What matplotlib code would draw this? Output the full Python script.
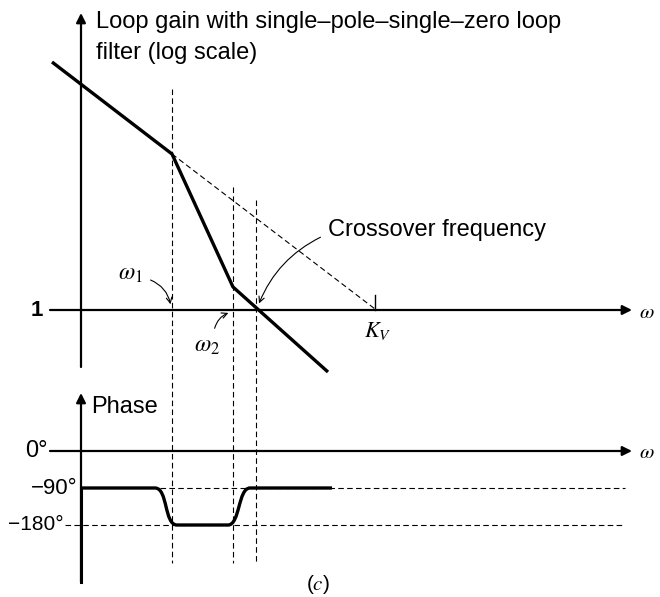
import matplotlib
matplotlib.use("Agg")
import matplotlib.pyplot as plt
from matplotlib.path import Path
from matplotlib.patches import PathPatch

plt.rcParams["font.family"] = ["Liberation Sans", "DejaVu Sans"]
plt.rcParams["mathtext.fontset"] = "stix"

# Sketch coordinates: x runs along log frequency, y runs down the page
# (log gain in the upper plot, phase in the lower one).
gain_x = [52, 172, 233, 328]          # loop gain asymptotes
gain_y = [62, 154, 287, 372]
asym_x = [172, 375]                    # continuation without the zero, down to K_v
asym_y = [154, 309]
corner_x = [172, 233, 256]             # omega_1, omega_2, crossover
corner_top = [89, 187, 200]
corner_bottom = 563
unity_y = 310
kv_x = 375

phase_levels = [451, 488, 525]         # 0, -90, -180 degrees
phase_labels = ["0°", "−90°", "−180°"]
phase_x = [81, 155, 177, 228, 250, 332]
phase_y = [488, 488, 525, 525, 488, 488]

fig = plt.figure(figsize=(6.6, 5.97), dpi=100)
ax = fig.add_axes([0, 0, 1, 1])
ax.set_xlim(0, 660)
ax.set_ylim(597, 0)
ax.set_axis_off()

thin = dict(color="black", lw=0.8, ls=(0, (5, 3)))
arrow = dict(arrowstyle="-|>", color="black", lw=1.6, mutation_scale=14,
             shrinkA=0, shrinkB=0)

# --- magnitude plot ---------------------------------------------------------
ax.annotate("", xy=(81, 13), xytext=(81, 367), arrowprops=arrow)
ax.annotate("", xy=(632, unity_y), xytext=(50, unity_y), arrowprops=arrow)
ax.text(37, unity_y, "1", fontsize=16, fontweight="bold", ha="center", va="center")
ax.text(647, unity_y + 2, r"$\omega$", fontsize=15, ha="center", va="center")
ax.text(96, 22, "Loop gain with single–pole–single–zero loop",
        fontsize=17, ha="left", va="center")
ax.text(96, 53, "filter (log scale)", fontsize=17, ha="left", va="center")

ax.plot(asym_x, asym_y, **thin)
ax.plot([kv_x, kv_x], [295, unity_y], color="black", lw=1)
ax.text(kv_x + 3, 331, r"$K_V$", fontsize=16, ha="center", va="center")
ax.plot(gain_x, gain_y, color="black", lw=2.4, solid_capstyle="butt")

for x, top in zip(corner_x, corner_top):
    ax.plot([x, x], [top, corner_bottom], **thin)

ax.text(130, 274, r"$\omega_1$", fontsize=17, ha="center", va="center")
ax.annotate("", xy=(171, 307), xytext=(148, 279),
            arrowprops=dict(arrowstyle="->", color="black", lw=0.8,
                            connectionstyle="arc3,rad=-0.3"))
ax.text(207, 346, r"$\omega_2$", fontsize=17, ha="center", va="center")
ax.annotate("", xy=(231, 312), xytext=(214, 331),
            arrowprops=dict(arrowstyle="->", color="black", lw=0.8,
                            connectionstyle="arc3,rad=-0.3"))
ax.text(328, 230, "Crossover frequency", fontsize=17, ha="left", va="center")
ax.annotate("", xy=(258, 306), xytext=(323, 236),
            arrowprops=dict(arrowstyle="->", color="black", lw=0.8,
                            connectionstyle="arc3,rad=0.2"))

# --- phase plot -------------------------------------------------------------
ax.annotate("", xy=(81, 393), xytext=(81, 582), arrowprops=arrow)
ax.plot([81, 81], [phase_levels[1], 582], color="black", lw=2.2)
ax.text(91, 407, "Phase", fontsize=17, ha="left", va="center")
ax.annotate("", xy=(632, phase_levels[0]), xytext=(50, phase_levels[0]),
            arrowprops=arrow)
ax.text(647, phase_levels[0] + 2, r"$\omega$", fontsize=15, ha="center", va="center")

ax.plot([160, 625], [phase_levels[1]] * 2, **thin)
ax.plot([65, 625], [phase_levels[2]] * 2, **thin)

label_right = [48, 78, 64]
label_size = [17, 16, 15]
for y, lab, xr, fs in zip(phase_levels, phase_labels, label_right, label_size):
    ax.text(xr, y, lab, fontsize=fs, ha="right", va="center")

# phase: flat at -90, smooth dip to -180 between the corners, back to -90
verts = [
    (phase_x[0], phase_y[0]), (phase_x[1], phase_y[1]),
    (phase_x[1] + 13, phase_y[1]), (phase_x[2] - 13, phase_y[2]), (phase_x[2], phase_y[2]),
    (phase_x[3], phase_y[3]),
    (phase_x[3] + 12, phase_y[3]), (phase_x[4] - 12, phase_y[4]), (phase_x[4], phase_y[4]),
    (phase_x[5], phase_y[5]),
]
codes = [Path.MOVETO, Path.LINETO,
         Path.CURVE4, Path.CURVE4, Path.CURVE4,
         Path.LINETO,
         Path.CURVE4, Path.CURVE4, Path.CURVE4,
         Path.LINETO]
ax.add_patch(PathPatch(Path(verts, codes), facecolor="none", edgecolor="black",
                       lw=2.4, capstyle="butt"))

ax.text(318, 584, r"($\mathit{c}$)", fontsize=15, ha="center", va="center")

fig.savefig("out.png", dpi=100)
